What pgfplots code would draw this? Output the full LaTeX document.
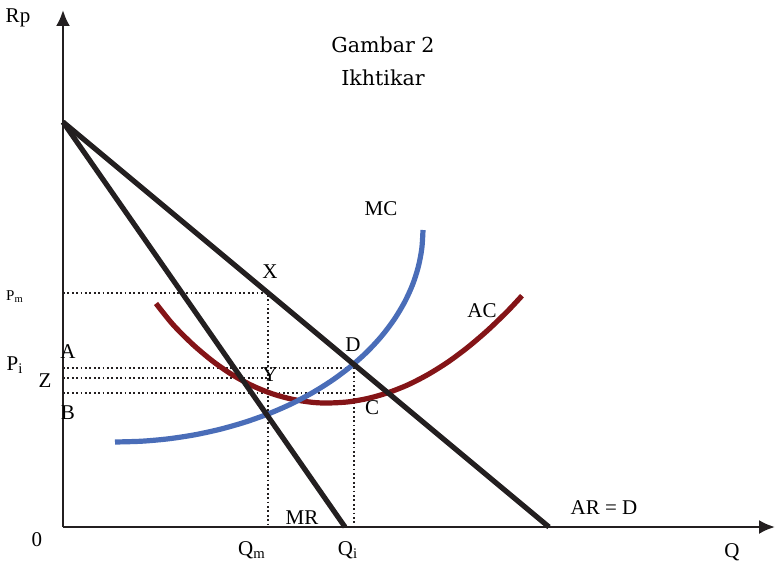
\documentclass[border=0pt]{standalone}
\usepackage{pgfplots}
\pgfplotsset{compat=1.18}
\usepackage{fontspec}
\setmainfont{Liberation Serif}
\newfontfamily\titlefont{DejaVu Serif}
\usetikzlibrary{arrows.meta}

\definecolor{mcblue}{HTML}{4A6DB8}
\definecolor{acred}{HTML}{841417}
\definecolor{ink}{HTML}{231F20}

\begin{document}
\begin{tikzpicture}
\begin{axis}[
    x=0.5pt, y=0.5pt,
    xmin=0, xmax=712, ymin=0, ymax=517,
    axis lines=left,
    axis line style={ink, line width=1.2pt, -{Latex[length=8pt,width=7pt]}},
    xtick=\empty, ytick=\empty,
    clip=false,
    font=\fontsize{10.5}{12}\selectfont,
]
% guide lines (dotted)
\addplot[ink, line width=0.7pt, dash pattern=on 0.9pt off 1.3pt] coordinates {(0,234) (205,234) (205,0)};
\addplot[ink, line width=0.7pt, dash pattern=on 0.9pt off 1.3pt] coordinates {(0,159) (291,159) (291,0)};
\addplot[ink, line width=0.7pt, dash pattern=on 0.9pt off 1.3pt] coordinates {(0,149) (205,149)};
\addplot[ink, line width=0.7pt, dash pattern=on 0.9pt off 1.3pt] coordinates {(0,134) (288,134)};
% AC
\addplot[acred, line width=2.6pt, smooth] coordinates {
  (93,223.5) (110,202.4) (130,182.4) (150,165.6) (170,151.8) (190,141.0)
  (210,133.0) (230,127.6) (250,124.6) (265,124) (285,125.1) (305,128.6)
  (325,134.3) (345,142.2) (365,152.5) (385,165.0) (405,179.9) (425,197.0)
  (445,216.3) (459,231.3)};
% MC
\addplot[mcblue, line width=2.6pt, smooth] coordinates {
  (52,85) (78.8,85.8) (105.5,88.2) (131.7,92.2) (157.3,97.8)
  (182.2,104.9) (206,113.4) (228.7,123.3) (250,134.6) (269.8,147.1)
  (287.9,160.7) (304.3,175.4) (318.7,191) (331.1,207.4) (341.4,224.5)
  (349.5,242.1) (355.3,260.2) (358.8,278.5) (360,297)};
% AR = D and MR
\addplot[ink, line width=2.6pt] coordinates {(0,405) (486,0)};
\addplot[ink, line width=2.6pt] coordinates {(0,405) (282,0)};

% labels
\node at (axis cs:-45,509) {Rp};
\node[font=\titlefont\fontsize{10.3}{12}\selectfont] at (axis cs:320,482) {Gambar 2};
\node[font=\titlefont\fontsize{10.3}{12}\selectfont] at (axis cs:320,449) {Ikhtikar};
\node at (axis cs:318,318) {MC};
\node at (axis cs:207,255) {X};
\node[font=\fontsize{7.5}{9}\selectfont] at (axis cs:-48,230) {P\textsubscript{m}};
\node at (axis cs:419,216) {AC};
\node at (axis cs:290,182) {D};
\node at (axis cs:-48,162) {P\textsubscript{i}};
\node at (axis cs:5,175) {A};
\node at (axis cs:-18,146) {Z};
\node at (axis cs:207,152) {Y};
\node at (axis cs:5,114) {B};
\node at (axis cs:309,119) {C};
\node at (axis cs:239,9) {MR};
\node at (axis cs:541,19) {AR = D};
\node at (axis cs:-26,-13) {0};
\node at (axis cs:189,-23) {Q\textsubscript{m}};
\node at (axis cs:285,-23) {Q\textsubscript{i}};
\node at (axis cs:669,-25) {Q};
\coordinate (bl) at (axis cs:-63,-36);
\coordinate (tr) at (axis cs:713,527);
\end{axis}
\pgfresetboundingbox
\path[use as bounding box] (bl) rectangle (tr);
\end{tikzpicture}
\end{document}
